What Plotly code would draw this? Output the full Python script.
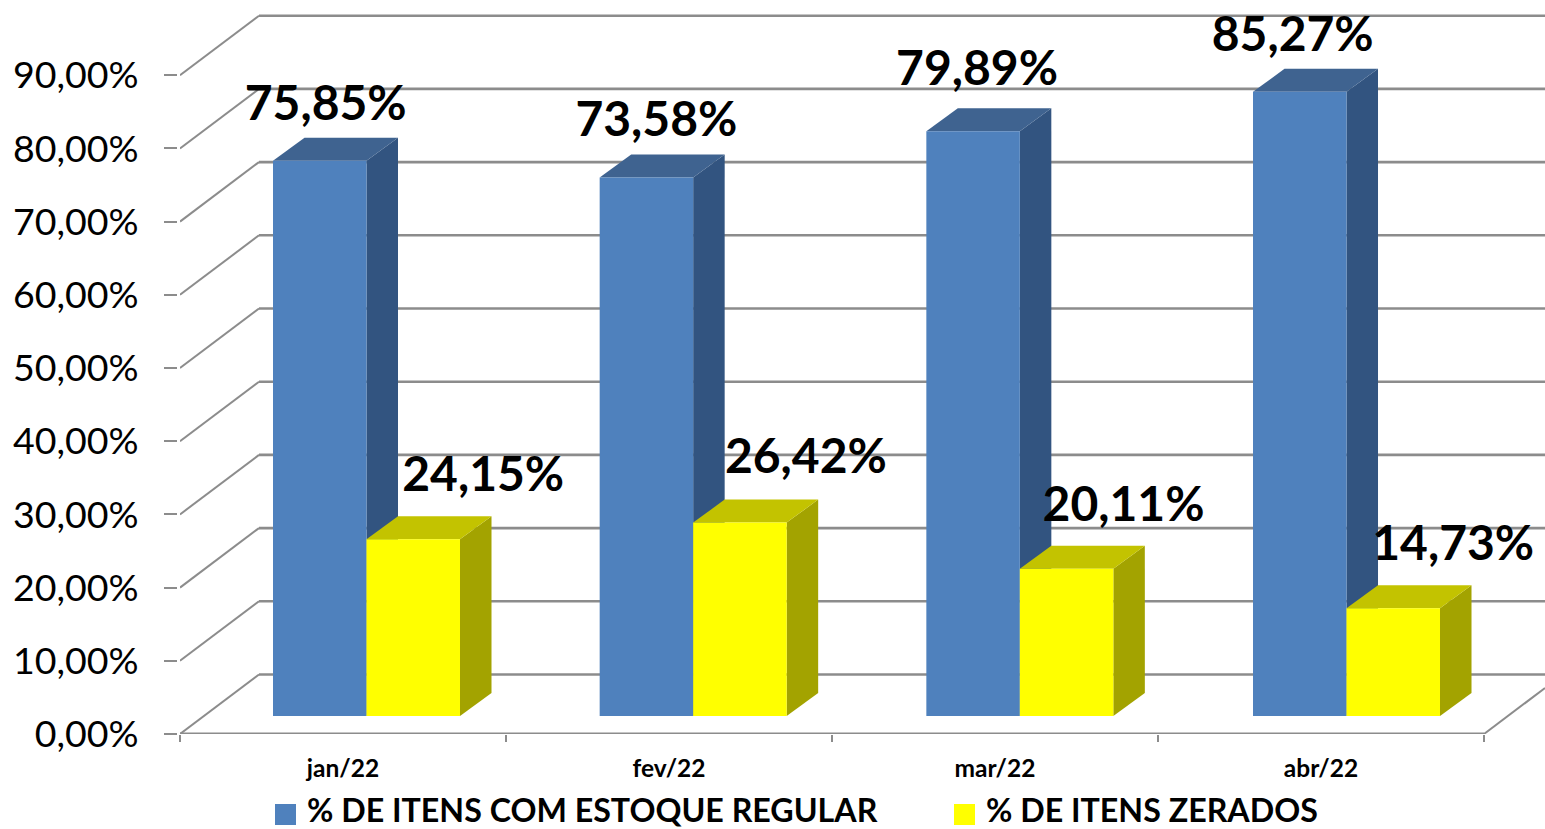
import plotly.graph_objects as go

months = ["jan/22", "fev/22", "mar/22", "abr/22"]
regular = [75.85, 73.58, 79.89, 85.27]
zerados = [24.15, 26.42, 20.11, 14.73]
regular_name = "% DE ITENS COM ESTOQUE REGULAR"
zerados_name = "% DE ITENS ZERADOS"
y_ticks = [0, 10, 20, 30, 40, 50, 60, 70, 80, 90]

# geometry in pixels, converted to axis units
W, H = 1545, 829
L, B = 180, 734
PX_X = 326
PX_Y = 7.32
ux = lambda p: p / PX_X
uy = lambda p: p / PX_Y

wall_dx, wall_dy = ux(79), uy(59.5)
base_y = uy(B - 716)
bar_dx, bar_dy = ux(31.5), uy(23)
bar_w = ux(93.5)
first_bar, bar_step = 273 - L, 326.67
x_max = (W - L) / PX_X
y_max = B / PX_Y

GRID = "#8c8c8c"
fig = go.Figure()

# back wall + side wall grid
fig.add_trace(go.Scatter(
    x=[v for _ in y_ticks for v in (wall_dx, x_max, None)],
    y=[u for t in y_ticks for u in (t + wall_dy, t + wall_dy, None)],
    mode="lines", line=dict(color=GRID, width=2.6),
    hoverinfo="skip", showlegend=False, zorder=0))
gx, gy = [], []
for v in y_ticks:
    gx += [0, wall_dx, None]
    gy += [v, v + wall_dy, None]
gx += [4, x_max]
gy += [0, (x_max - 4) / wall_dx * wall_dy]
fig.add_trace(go.Scatter(x=gx, y=gy, mode="lines", line=dict(color=GRID, width=2),
                         hoverinfo="skip", showlegend=False, zorder=0))
# front floor edge (stops at the last tick)
fig.add_trace(go.Scatter(x=[0, 4], y=[0, 0], mode="lines", cliponaxis=False,
                         line=dict(color=GRID, width=3),
                         hoverinfo="skip", showlegend=False, zorder=0))


def poly(xs, ys, color, z):
    fig.add_trace(go.Scatter(x=xs, y=ys, mode="lines", fill="toself", fillcolor=color,
                             line=dict(width=0, color=color), hoverinfo="skip",
                             showlegend=False, zorder=z))


def lefts(k):
    return [ux(first_bar + bar_step * i) + k * bar_w for i in range(4)]


series = [
    (regular, regular_name, "#4F81BD", "#3F6390", "#325480", 0, 1),
    (zerados, zerados_name, "#FFFF00", "#C3C300", "#A3A300", 1, 3),
]
for vals, name, front, top, side, k, z in series:
    centers = [a + bar_w / 2 for a in lefts(k)]
    for c, v in zip(centers, vals):
        x0, x1 = c - bar_w / 2, c + bar_w / 2
        yb, yt = base_y, base_y + v
        poly([x1, x1 + bar_dx, x1 + bar_dx, x1, x1],
             [yb, yb + bar_dy, yt + bar_dy, yt, yb], side, z)
        poly([x0, x1, x1 + bar_dx, x0 + bar_dx, x0],
             [yt, yt, yt + bar_dy, yt + bar_dy, yt], top, z)
    fig.add_trace(go.Bar(x=centers, y=vals, base=base_y, width=bar_w, name=name,
                         marker=dict(color=front, line=dict(width=0)),
                         hoverinfo="skip", showlegend=False, zorder=z + 1))

# data labels (offsets from the bar centres, in pixels)
reg_off = [(6, 53), (10, 53), (4, 58), (-7, 53)]
zer_off = [(70, 60), (66, 62), (57, 60), (60, 60)]
for vals, k, off in ((regular, 0, reg_off), (zerados, 1, zer_off)):
    fig.add_trace(go.Scatter(
        x=[a + bar_w / 2 + ux(o[0]) for a, o in zip(lefts(k), off)],
        y=[base_y + v + uy(o[1]) for v, o in zip(vals, off)],
        mode="text", text=[f"{v:.2f}%".replace(".", ",") for v in vals],
        textposition="middle center", cliponaxis=False,
        textfont=dict(family="Lato", size=48, color="#000000", weight="bold"),
        hoverinfo="skip", showlegend=False, zorder=6))

# legend: swatches and labels placed below the plot area
px = lambda p: (p - L) / (W - L)
py = lambda p: (B - p) / B
shapes, annotations = [], []
for sw, tx, name, color in ((275, 306, regular_name, "#4F81BD"),
                            (954, 985, zerados_name, "#FFFF00")):
    shapes.append(dict(type="rect", xref="paper", yref="paper", layer="above",
                       x0=px(sw), x1=px(sw + 21), y0=py(825), y1=py(804),
                       fillcolor=color, line=dict(width=0)))
    annotations.append(dict(text=f"<b>{name}</b>", xref="paper", yref="paper",
                            x=px(tx), y=py(809.5), xanchor="left", yanchor="middle",
                            showarrow=False, borderpad=0,
                            font=dict(family="Lato", size=32.2, color="#000000")))

fig.update_layout(
    width=W, height=H, autosize=False, barmode="overlay", showlegend=False,
    margin=dict(l=L, r=0, t=0, b=H - B, pad=0),
    paper_bgcolor="white", plot_bgcolor="rgba(0,0,0,0)",
    font=dict(family="Lato", color="#000000"),
    shapes=shapes, annotations=annotations,
    xaxis=dict(range=[0, x_max], tickvals=[i + 0.5 for i in range(4)], ticktext=months,
               ticks="outside", ticklen=13, tickcolor="rgba(0,0,0,0)",
               tickfont=dict(family="Lato", size=24.5, weight="bold"),
               minor=dict(tickvals=[0, 1, 2, 3, 4], ticks="outside", ticklen=7,
                          tickcolor=GRID, tickwidth=2),
               showgrid=False, zeroline=False, showline=False),
    yaxis=dict(range=[0, y_max], tickvals=y_ticks,
               ticktext=[f"{v},00%" for v in y_ticks],
               ticks="outside", ticklen=13, tickcolor=GRID, tickwidth=2,
               ticklabelstandoff=18,
               tickfont=dict(family="Lato", size=37.5),
               showgrid=False, zeroline=False, showline=True, linecolor=GRID, linewidth=2.6),
)
fig.write_html("out.html", config={"displayModeBar": False},
               post_script="document.body.style.margin='0';")
